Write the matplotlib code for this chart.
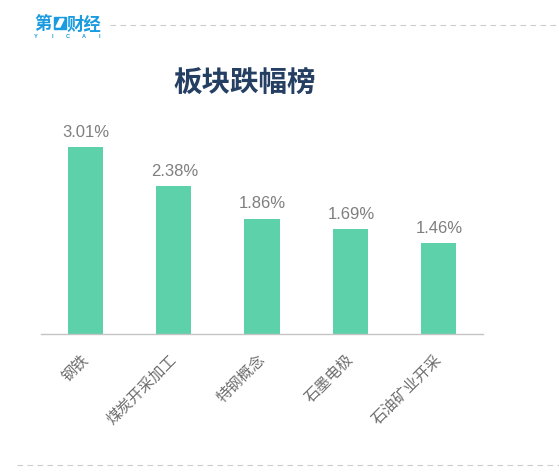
import matplotlib.pyplot as plt
from matplotlib.patches import Rectangle, Polygon

# Data
categories = ['钢铁', '煤炭开采加工', '特钢概念', '石墨电极', '石油矿业开采']
values = [3.01, 2.38, 1.86, 1.69, 1.46]
value_labels = ['3.01%', '2.38%', '1.86%', '1.69%', '1.46%']

W, H = 559, 476
plt.rcParams['font.family'] = ['Liberation Sans', 'Noto Sans CJK SC', 'DejaVu Sans']

fig = plt.figure(figsize=(W / 100, H / 100), dpi=100)
fig.patch.set_facecolor('white')

# Axes placed in pixels: x 41-483, baseline at y=334
ax = fig.add_axes([41 / W, (H - 334) / H, 442 / W, 217 / H])
ax.bar(range(len(values)), values, width=0.4, color='#5cd1aa')
ax.set_xlim(-0.5, 4.5)
ax.set_ylim(0, 3.5)
ax.set_yticks([])
ax.set_xticks([])
for side in ['top', 'right', 'left']:
    ax.spines[side].set_visible(False)
ax.spines['bottom'].set_color('#c4c4c4')
ax.spines['bottom'].set_linewidth(1.0)

for i, lab in enumerate(value_labels):
    ax.annotate(lab, (i, values[i]), xytext=(0.5, 5.5), textcoords='offset points',
                ha='center', va='bottom', fontsize=12, color='#7f7f7f')

# Category labels, rotated 45 degrees, ending just under the axis
for i, cat in enumerate(categories):
    ax.annotate(cat, (i, 0), xytext=(-3, -13), textcoords='offset points',
                ha='right', va='top', rotation=45, rotation_mode='anchor',
                fontsize=11, color='#6e6e6e')

fig.text(244.5 / W, 1 - 84 / H, '板块跌幅榜', ha='center', va='center',
         fontsize=20.5, fontweight='bold', color='#253f63')

# Dashed rules at the top and bottom
fig.add_artist(plt.Line2D([110 / W, 1], [1 - 24.5 / H] * 2, color='#cccccc', lw=0.8,
                          dashes=(5, 4)))
fig.add_artist(plt.Line2D([17 / W, 1], [1 - 464.5 / H] * 2, color='#cccccc', lw=0.8,
                          dashes=(5, 4)))

# Logo
blue = '#1a9be0'
fig.text(43.5 / W, 1 - 24 / H, '第', ha='center', va='center', fontsize=12.5,
         fontweight='bold', color=blue)
fig.add_artist(Rectangle((54 / W, 1 - 29 / H), 12 / W, 12 / H, color=blue,
                         transform=fig.transFigure))
fig.add_artist(Polygon([(56 / W, 1 - 27 / H), (60 / W, 1 - 27 / H), (64 / W, 1 - 19 / H),
                        (60 / W, 1 - 19 / H)],
                       closed=True, color='white', transform=fig.transFigure))
fig.text(83.5 / W, 1 - 24 / H, '财经', ha='center', va='center', fontsize=12.5,
         fontweight='bold', color=blue)
for x, ch in zip([36, 52, 68, 84, 99], 'YICAI'):
    fig.text(x / W, 1 - 36 / H, ch, ha='center', va='center', fontsize=4,
             fontweight='bold', color=blue)

fig.savefig('out.png', dpi=100)
